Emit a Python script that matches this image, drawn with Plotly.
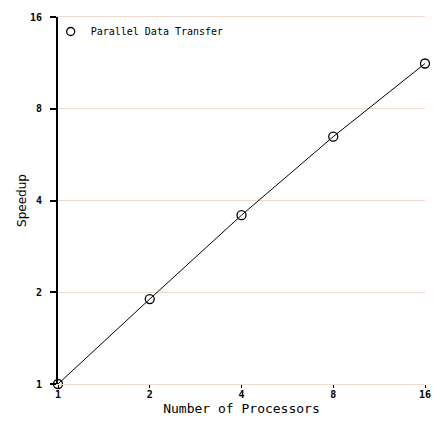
import plotly.graph_objects as go

processors = [1, 2, 4, 8, 16]
speedup = [1.0, 1.90, 3.58, 6.48, 11.26]
tick_vals = [1, 2, 4, 8, 16]
tick_text = ["1", "2", "4", "8", "16"]
series_name = "Parallel Data Transfer"

GRID = "#efd9cc"

fig = go.Figure()
fig.add_trace(go.Scatter(
    x=processors, y=speedup, mode="lines+markers",
    name=series_name, showlegend=False,
    line=dict(color="black", width=1),
    marker=dict(symbol="circle-open", size=9, color="black", line=dict(width=1.3)),
    cliponaxis=False,
))
# legend entry (marker only, like the reference)
fig.add_trace(go.Scatter(
    x=[None], y=[None], mode="markers", name=series_name,
    marker=dict(symbol="circle-open", size=8, color="black", line=dict(width=1.3)),
))

fig.update_layout(
    width=433, height=421,
    margin=dict(l=58, r=8, t=17, b=37, autoexpand=False),
    paper_bgcolor="white", plot_bgcolor="white",
    showlegend=True,
    legend=dict(x=-0.02, y=1.0, xanchor="left", yanchor="top",
                bgcolor="rgba(0,0,0,0)",
                font=dict(family="DejaVu Sans Mono", size=10, color="black"),
                itemwidth=30, tracegroupgap=0),
    xaxis=dict(type="log", range=[0, 1.20412], tickvals=tick_vals, ticktext=tick_text,
               automargin=False,
               showgrid=False, showline=True, linecolor=GRID, linewidth=1, mirror=True,
               zeroline=False,
               ticks="outside", ticklen=3, tickcolor="black", tickwidth=1.2,
               ticklabelstandoff=-2,
               tickfont=dict(family="DejaVu Sans Mono", size=10, color="black", weight="bold"),
               title=dict(text="Number of Processors", standoff=4,
                          font=dict(family="DejaVu Sans Mono", size=13, color="black"))),
    yaxis=dict(type="log", range=[0, 1.20412], tickvals=tick_vals, ticktext=tick_text,
               automargin=False,
               showgrid=True, gridcolor=GRID, gridwidth=1,
               showline=True, linecolor="black", linewidth=2, zeroline=False,
               ticks="outside", ticklen=6, tickcolor="black", tickwidth=1.5,
               ticklabelstandoff=6,
               tickfont=dict(family="DejaVu Sans Mono", size=10, color="black", weight="bold"),
               title=dict(text="Speedup", standoff=1,
                          font=dict(family="DejaVu Sans", size=12, color="black"))),
)

fig.write_html("out.html", config={"displayModeBar": False},
               post_script="document.body.style.margin='0';")
